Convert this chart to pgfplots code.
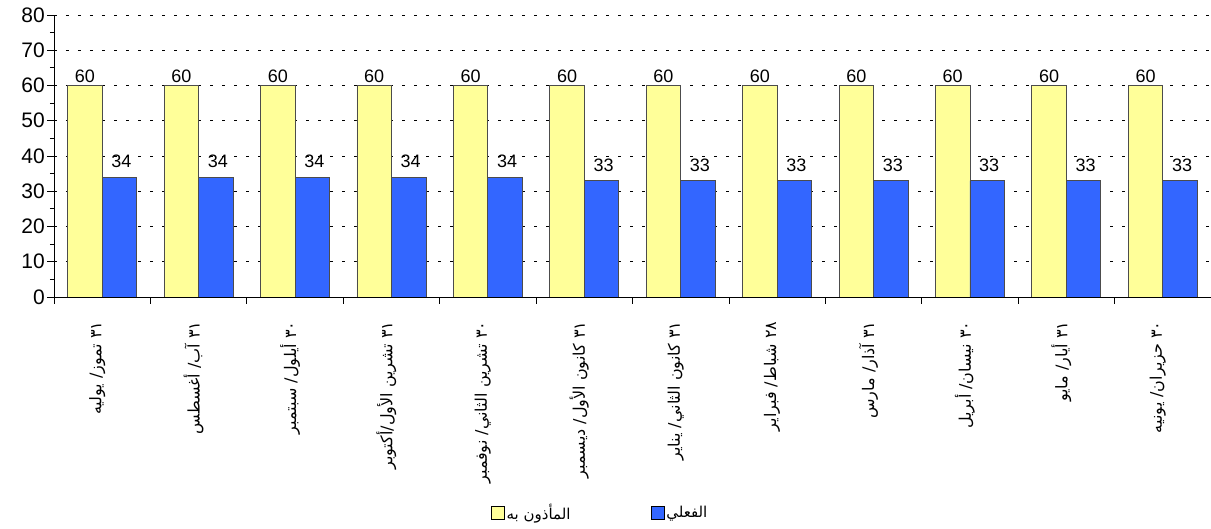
\documentclass[border=0pt]{standalone}
\usepackage{fontspec}
\setmainfont{Liberation Sans}
\newfontfamily\arabicfont[Script=Arabic]{DejaVu Sans}
\TeXXeTstate=1
\usepackage{pgfplots}
\pgfplotsset{compat=1.18}
\definecolor{allowed}{HTML}{FFFF99}
\definecolor{actual}{HTML}{3366FF}
\begin{document}
\begin{tikzpicture}
\useasboundingbox (-54pt,-232pt) rectangle (1157pt,297pt);
\begin{axis}[
  scale only axis,
  width=1157pt, height=282pt,
  xmin=-0.5, xmax=11.5, ymin=0, ymax=80,
  enlargelimits=false,
  axis x line*=bottom, axis y line*=left,
  axis line style={black, line width=0.8pt},
  ybar=0pt, bar width=34.5pt,
  ytick={0,10,...,80},
  minor y tick num=1,
  tick align=outside,
  major tick length=7pt, minor tick length=4pt,
  xtick={-0.5,0.5,...,11.5},
  x tick label as interval,
  xticklabels={
    {\arabicfont\beginR\beginL ٣١\endL{} تموز/ يوليه\endR},
    {\arabicfont\beginR\beginL ٣١\endL{} آب/ أغسطس\endR},
    {\arabicfont\beginR\beginL ٣٠\endL{} أيلول/ سبتمبر\endR},
    {\arabicfont\beginR\beginL ٣١\endL{} تشرين الأول/أكتوبر\endR},
    {\arabicfont\beginR\beginL ٣٠\endL{} تشرين الثاني/ نوفمبر\endR},
    {\arabicfont\beginR\beginL ٣١\endL{} كانون الأول/ ديسمبر\endR},
    {\arabicfont\beginR\beginL ٣١\endL{} كانون الثاني/ يناير\endR},
    {\arabicfont\beginR\beginL ٢٨\endL{} شباط/ فبراير\endR},
    {\arabicfont\beginR\beginL ٣١\endL{} آذار/ مارس\endR},
    {\arabicfont\beginR\beginL ٣٠\endL{} نيسان/ أبريل\endR},
    {\arabicfont\beginR\beginL ٣١\endL{} أيار/ مايو\endR},
    {\arabicfont\beginR\beginL ٣٠\endL{} حزيران/ يونيه\endR}},
  xticklabel style={font=\fontsize{16}{18}\selectfont, rotate=90, anchor=east, xshift=-14pt, yshift=5pt},
  yticklabel style={font=\fontsize{21}{24}\selectfont, inner sep=2pt},
  /pgf/number format/assume math mode=true,
  ymajorgrids,
  major grid style={black, dash pattern=on 3pt off 9pt, line width=0.8pt},
  tick style={black, line width=0.8pt},
  nodes near coords,
  every node near coord/.append style={font=\fontsize{18}{20}\selectfont, black, inner sep=2pt},
  legend style={at={(axis description cs:0.472,-0.766)}, anchor=center, draw=none,
    font=\fontsize{15}{17}\selectfont,
    /tikz/every even column/.append style={column sep=78pt}},
  legend columns=2,
  legend image code/.code={\draw[#1, draw=black] (0pt,-6pt) rectangle (13pt,7pt);},
]
\addplot[fill=allowed, draw=black!70, line width=0.8pt] coordinates {
(0,60) (1,60) (2,60) (3,60) (4,60) (5,60) (6,60) (7,60) (8,60) (9,60) (10,60) (11,60)};
\addlegendentry{\arabicfont\beginR المأذون به\endR}
\addplot[fill=actual, draw=black!70, line width=0.8pt,
  every node near coord/.append style={yshift=7pt, xshift=2pt}] coordinates {
(0,34) (1,34) (2,34) (3,34) (4,34) (5,33) (6,33) (7,33) (8,33) (9,33) (10,33) (11,33)};
\addlegendentry{\arabicfont\beginR الفعلي\endR}
\end{axis}
\end{tikzpicture}
\end{document}
